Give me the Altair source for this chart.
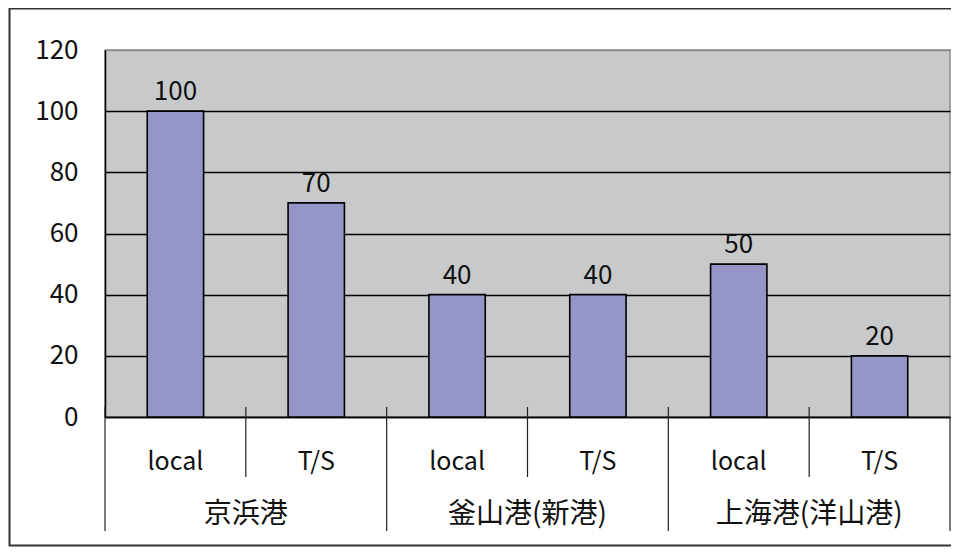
import altair as alt
import pandas as pd

groups = ["京浜港", "京浜港", "釜山港(新港)", "釜山港(新港)", "上海港(洋山港)", "上海港(洋山港)"]
subs = ["local", "T/S", "local", "T/S", "local", "T/S"]
values = [100, 70, 40, 40, 50, 20]
y_ticks = [0, 20, 40, 60, 80, 100, 120]

keys = [f"{g}|{s}" for g, s in zip(groups, subs)]
df = pd.DataFrame({"key": keys, "group": groups, "sub": subs, "value": values})

FONT = "Noto Sans CJK JP"
W, H = 845, 367

xs = alt.Scale(domain=keys, paddingInner=0, paddingOuter=0)
ys = alt.Scale(domain=[0, 120], nice=False)

base = alt.Chart(df)

bars = base.mark_bar(width={"band": 0.4}, color="#9595C8", stroke="black", strokeWidth=1.6).encode(
    x=alt.X("key:N", scale=xs, sort=keys,
            axis=alt.Axis(title=None, labels=False, ticks=False, domain=True,
                          domainColor="black", domainWidth=1.5)),
    y=alt.Y("value:Q", scale=ys,
            axis=alt.Axis(title=None, values=y_ticks, ticks=False, domainColor="black",
                          domainWidth=1.5, labelFont=FONT, labelFontSize=26,
                          labelColor="#111", labelPadding=27,
                          gridColor=alt.condition("datum.value == 120", alt.value("#8c8c8c"), alt.value("black")),
                          gridWidth=1.3)),
)

vlabels = base.mark_text(font=FONT, fontSize=26, baseline="alphabetic", dy=-11, color="#111").encode(
    x=alt.X("key:N", scale=xs, sort=keys),
    y=alt.Y("value:Q", scale=ys),
    text=alt.Text("value:Q"),
)

sublabels = base.mark_text(font=FONT, fontSize=25, baseline="middle", color="#111").encode(
    x=alt.X("key:N", scale=xs, sort=keys),
    y=alt.value(412),
    text="sub:N",
)

grouplabels = base.transform_filter(alt.datum.sub == "T/S").mark_text(
    font=FONT, fontSize=28, baseline="middle", color="#111").encode(
    x=alt.X("key:N", scale=xs, sort=keys, bandPosition=0),
    y=alt.value(465),
    text="group:N",
)

minor_rules = base.transform_filter(alt.datum.sub == "T/S").mark_rule(color="#222", strokeWidth=1.2).encode(
    x=alt.X("key:N", scale=xs, sort=keys, bandPosition=0),
    y=alt.value(357), y2=alt.value(427),
)

major_rules = base.transform_filter(alt.datum.sub == "local").mark_rule(color="#222", strokeWidth=1.2).encode(
    x=alt.X("key:N", scale=xs, sort=keys, bandPosition=0),
    y=alt.value(357), y2=alt.value(481),
)

end_rule = base.transform_filter(alt.datum.key == keys[-1]).mark_rule(color="#222", strokeWidth=1.2).encode(
    x=alt.X("key:N", scale=xs, sort=keys, bandPosition=1),
    y=alt.value(367), y2=alt.value(481),
)

frame = base.transform_filter(alt.datum.key == keys[0]).mark_rect(
    fill=None, stroke="#333", strokeWidth=2).encode(
    x=alt.value(-95.5), x2=alt.value(W + 40),
    y=alt.value(-41.5), y2=alt.value(495.5),
)

chart = alt.layer(bars, vlabels, sublabels, grouplabels, minor_rules, major_rules, end_rule, frame).properties(
    width=W, height=H,
    autosize=alt.AutoSizeParams(type="none"),
    padding={"left": 97, "top": 42, "right": 1, "bottom": 130},
).configure_view(fill="#C8C9CB", stroke="#8c8c8c", strokeWidth=1.5)

chart.save("out.html", embed_options={"renderer": "svg", "actions": False})
